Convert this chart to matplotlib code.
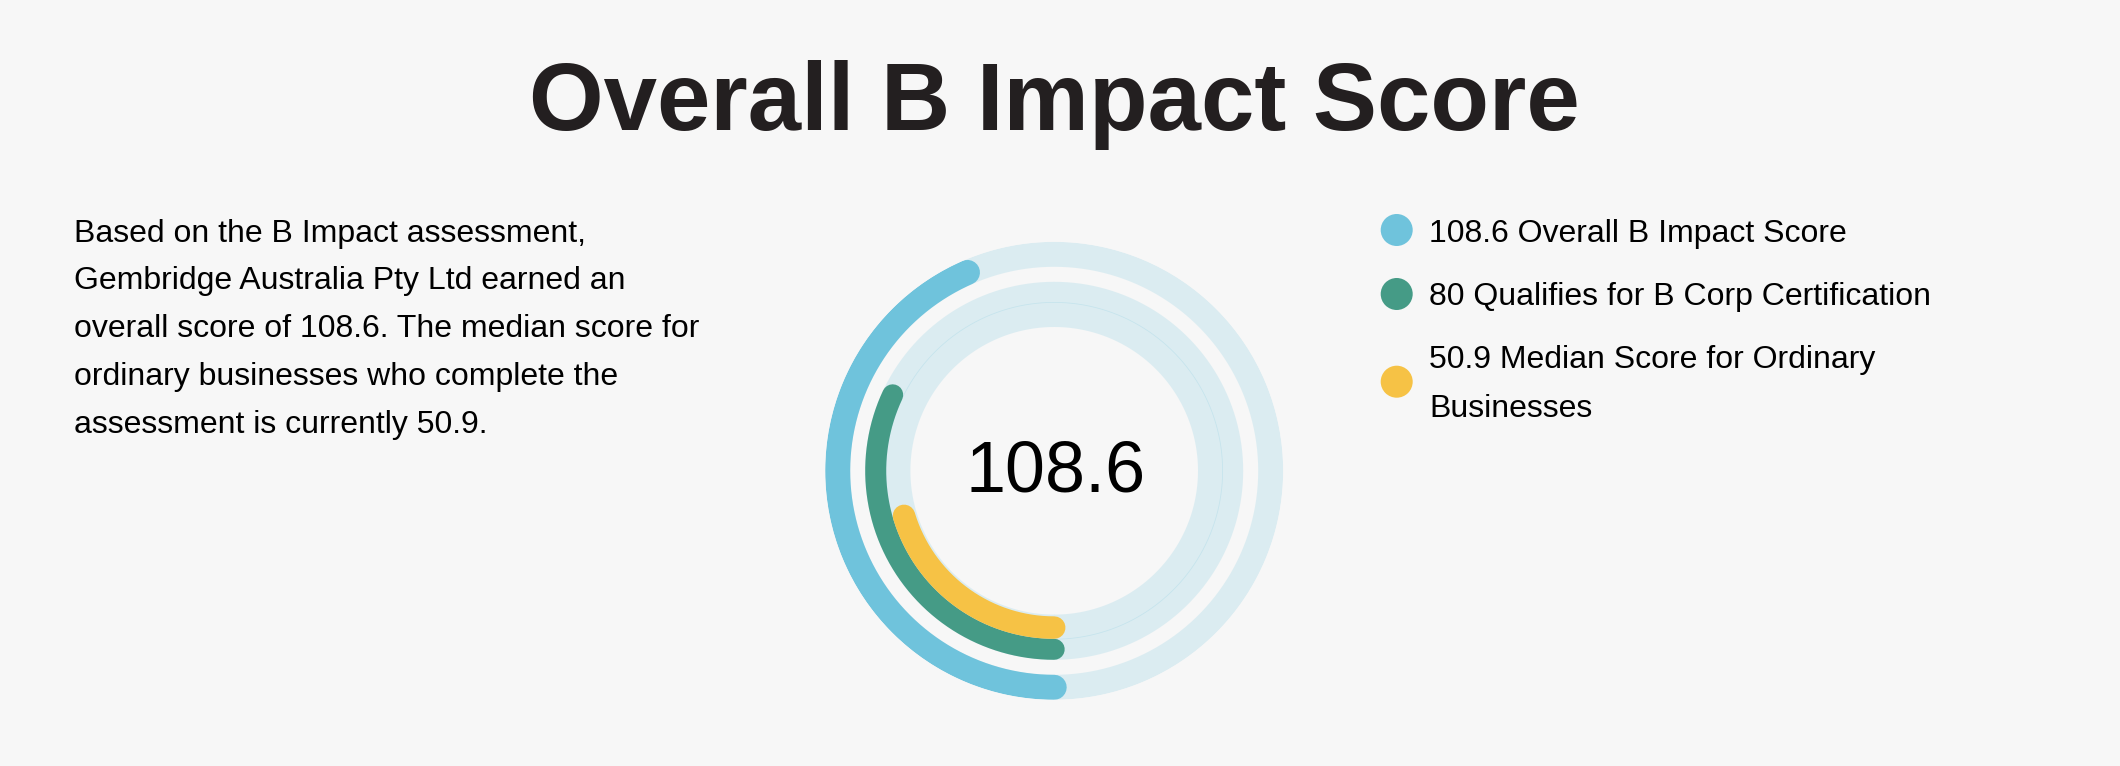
import numpy as np
import matplotlib
matplotlib.use("Agg")
import matplotlib.pyplot as plt
from matplotlib.patches import Circle

# ---- data ----
title = "Overall B Impact Score"
score_max = 250
series_names = ["Overall B Impact Score", "Qualifies for B Corp Certification",
                "Median Score for Ordinary Businesses"]
series_values = [108.6, 80, 50.9]
series_colors = ["#6fc3dc", "#459b86", "#f6c245"]
center_label = "108.6"
paragraph_lines = [
    "Based on the B Impact assessment,",
    "Gembridge Australia Pty Ltd earned an",
    "overall score of 108.6. The median score for",
    "ordinary businesses who complete the",
    "assessment is currently 50.9.",
]
legend_lines = [
    ["108.6 Overall B Impact Score"],
    ["80 Qualifies for B Corp Certification"],
    ["50.9 Median Score for Ordinary", "Businesses"],
]

W, H = 2120, 766
DPI = 100
BG = "#f7f7f7"
PT = 72.0 / DPI  # points per pixel

plt.rcParams['font.family'] = ['Liberation Sans', 'DejaVu Sans']

fig = plt.figure(figsize=(W / DPI, H / DPI), dpi=DPI, facecolor=BG)

# pixel-coordinate background axes
bg = fig.add_axes([0, 0, 1, 1])
bg.set_xlim(0, W)
bg.set_ylim(H, 0)
bg.set_facecolor(BG)
bg.axis('off')

# title
bg.text(1054, 130, title, ha='center', va='baseline', fontsize=96 * PT,
        fontweight='bold', color='#231f20')

# paragraph
para_fs = 32 * PT
for i, line in enumerate(paragraph_lines):
    bg.text(73.5, 241.7 + i * 47.8, line, ha='left', va='baseline',
            fontsize=para_fs, color='#000000')

# legend
leg_circle_y = [230, 294, 381.7]
leg_base_y = [241.7, 305, 368.3]
for i, lines in enumerate(legend_lines):
    bg.add_patch(Circle((1396.7, leg_circle_y[i]), 16, color=series_colors[i], lw=0))
    for j, line in enumerate(lines):
        bg.text(1429, leg_base_y[i] + j * 48.3, line, ha='left', va='baseline',
                fontsize=para_fs, color='#000000')

# donut (polar)
cx, cy, R = 1054.2, 470.8, 229
pax = fig.add_axes([(cx - R) / W, (H - cy - R) / H, 2 * R / W, 2 * R / H],
                   projection='polar')
pax.set_theta_zero_location('S')
pax.set_theta_direction(-1)
pax.set_rlim(0, R)
pax.patch.set_alpha(0)
pax.axis('off')

ring_r = [216.5, 178.5, 156.8]
ring_w = [25, 21, 22.5]
track_r = [216.5, 178.5, 156.3]
track_w = [25, 21, 25]

full = np.linspace(0, 2 * np.pi, 721)
for r, tw in zip(track_r, track_w):
    pax.plot(full, np.full_like(full, r), color=series_colors[0], alpha=0.2,
             lw=tw * PT, solid_capstyle='butt', zorder=1)

for v, r, w, c in zip(series_values, ring_r, ring_w, series_colors):
    th = np.linspace(0, 2 * np.pi * v / score_max, 400)
    pax.plot(th, np.full_like(th, r), color=c, lw=w * PT,
             solid_capstyle='round', zorder=3)

bg.text(1055.8, 465, center_label, ha='center', va='center_baseline',
        fontsize=72 * PT, color='#000000', zorder=5)

fig.savefig("out.png", dpi=DPI, facecolor=BG)
